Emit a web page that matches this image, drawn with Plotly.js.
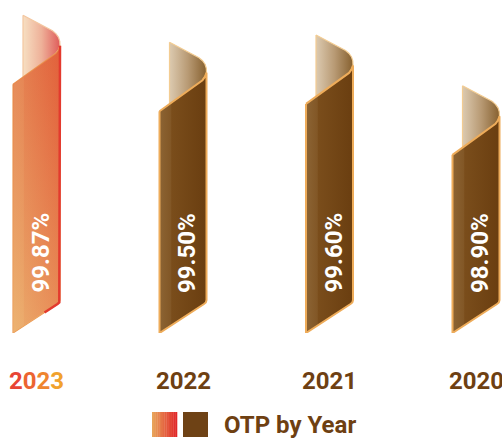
<!DOCTYPE html>
<html>
<head>
<meta charset="utf-8">
<script src="https://cdn.plot.ly/plotly-3.0.1.min.js"></script>
<style>html,body{margin:0;padding:0;background:#fff;}#chart{width:502px;height:439px;}</style>
</head>
<body>
<div id="chart"></div>
<script>
// ---- data ----
const years = ['2023', '2022', '2021', '2020'];
const otp = [99.87, 99.50, 99.60, 98.90];
const valueLabels = ['99.87%', '99.50%', '99.60%', '98.90%'];
const seriesName = 'OTP by Year';

// ---- layout geometry (pixels) ----
const W = 502, H = 439, PLOT_H = 333;
const PX_X = 146.5;          // pixels per category
const PX_Y = 72.7;           // pixels per percentage point
const Y0 = 95.5;             // axis bottom
const xRange = [-36.5 / PX_X, (W - 36.5) / PX_X];
const yRange = [Y0, Y0 + PLOT_H / PX_Y];

// point helpers: dx pixel offset from category centre; T = px below value top, B = px above base
const T = 1, B = 0;
function pts(i, v, list) {
  const xs = [], ys = [];
  list.forEach(p => {
    xs.push(i + p[0] / PX_X);
    ys.push(p[1] === T ? v - p[2] / PX_Y : Y0 + p[2] / PX_Y);
  });
  xs.push(xs[0]); ys.push(ys[0]);
  return {x: xs, y: ys};
}
const frontShape = [[-23.5,T,69],[10,T,45.5],[16,T,41.3],[19.5,T,38],[22,T,34.5],[23.5,T,30.5],
                    [23.5,B,33],[22.8,B,30.5],[21,B,29],[-23.5,B,0]];
const backShape = [[-13.5,T,0],[11.5,T,13],[16,T,15.5],[19.5,T,18.5],[22,T,22],[23.3,T,26],[23.5,T,30.5],
                   [22,T,34.5],[19.5,T,38],[16,T,41.3],[10,T,45.5],[-13.5,T,62]];
const rightEdge = [[23.5,T,30.5],[23.5,B,33],[22.8,B,30.5],[21,B,29],[8,B,20.5]];

const traces = [];
otp.forEach((v, i) => {
  const hot = i === 0;
  const back = pts(i, v, backShape);
  traces.push({
    type: 'scatter', mode: 'lines', x: back.x, y: back.y, fill: 'toself',
    fillgradient: {type: 'horizontal', colorscale: hot
      ? [[0, '#f7dfc2'], [0.5, '#eeb199'], [1, '#df5c5a']]
      : [[0, '#dccab0'], [0.5, '#b89a74'], [1, '#86602f']]},
    line: {color: hot ? '#f3c7a0' : '#f3cc92', width: 1.2},
    hoverinfo: 'skip', showlegend: false
  });
  const front = pts(i, v, frontShape);
  traces.push({
    type: 'scatter', mode: 'lines', x: front.x, y: front.y, fill: 'toself',
    fillgradient: {type: 'horizontal', colorscale: hot
      ? [[0, '#e9a96c'], [0.22, '#e8a066'], [0.24, '#e6935c'], [1, '#e2683f']]
      : [[0, '#8c6434'], [0.24, '#825726'], [0.26, '#7a4d1b'], [1, '#6a3e10']]},
    line: {color: hot ? '#eb9a55' : '#eeac5a', width: hot ? 1.2 : 2},
    hoverinfo: 'skip', showlegend: false
  });
  if (hot) {
    traces.push({
      type: 'scatter', mode: 'lines', x: front.x, y: front.y, fill: 'toself',
      fillgradient: {type: 'vertical', colorscale: [[0, 'rgba(240,190,120,0.45)'], [1, 'rgba(225,80,50,0.35)']]},
      line: {width: 0}, hoverinfo: 'skip', showlegend: false
    });
    const re = pts(i, v, rightEdge);
    traces.push({
      type: 'scatter', mode: 'lines', x: re.x.slice(0, -1), y: re.y.slice(0, -1),
      line: {color: '#e33a2e', width: 2.5}, hoverinfo: 'skip', showlegend: false
    });
  }
});

// value labels
const annotations = otp.map((v, i) => ({
  x: i, y: Y0, xref: 'x', yref: 'y', yshift: 80, xshift: 4,
  text: '<b>' + valueLabels[i] + '</b>', textangle: -90, showarrow: false,
  font: {family: 'Roboto', size: 24, color: '#ffffff'}
}));

// year category labels
const toPX = px => px / W, toPY = py => (PLOT_H - py) / PLOT_H;
const hotColors = ['#e84534', '#ec6431', '#ef852f', '#f1a22d'];
years.forEach((y, i) => {
  const txt = i === 0
    ? '<b>' + y.split('').map((c, k) => '<span style="color:' + hotColors[k] + '">' + c + '</span>').join('') + '</b>'
    : '<b>' + y + '</b>';
  annotations.push({x: i, xref: 'x', yref: 'paper', y: toPY(381), xanchor: 'center', yanchor: 'middle',
    text: txt, showarrow: false, font: {family: 'Roboto', size: 24, color: '#6e4012'}});
});

// legend (drawn in paper coords)
const shapes = [];
const gA = [232, 163, 90], gB = [224, 40, 40], N = 14;
for (let k = 0; k < N; k++) {
  const t = k / (N - 1);
  const c = gA.map((a, j) => Math.round(a + (gB[j] - a) * t));
  shapes.push({type: 'rect', xref: 'paper', yref: 'paper',
    x0: toPX(152 + 25 * k / N), x1: toPX(152 + 25 * (k + 1) / N + 0.3), y0: toPY(437), y1: toPY(412),
    fillcolor: 'rgb(' + c.join(',') + ')', line: {width: 0}});
}
shapes.push({type: 'rect', xref: 'paper', yref: 'paper', x0: toPX(183), x1: toPX(208), y0: toPY(437), y1: toPY(412),
  fillcolor: '#6e4215', line: {width: 0}});
annotations.push({xref: 'paper', yref: 'paper', x: toPX(222), y: toPY(424.5), xanchor: 'left', yanchor: 'middle',
  text: '<b>' + seriesName + '</b>', showarrow: false, font: {family: 'Roboto', size: 24, color: '#6e4012'}});

const layout = {
  width: W, height: H,
  margin: {l: 0, r: 0, t: 0, b: H - PLOT_H, pad: 0},
  paper_bgcolor: '#ffffff', plot_bgcolor: '#ffffff',
  showlegend: false,
  xaxis: {range: xRange, showgrid: false, zeroline: false, showline: false, ticks: '',
    showticklabels: false, fixedrange: true},
  yaxis: {range: yRange, visible: false, showgrid: false, zeroline: false, fixedrange: true},
  annotations: annotations, shapes: shapes
};
Plotly.newPlot('chart', traces, layout, {displayModeBar: false, staticPlot: true});
</script>
</body>
</html>
